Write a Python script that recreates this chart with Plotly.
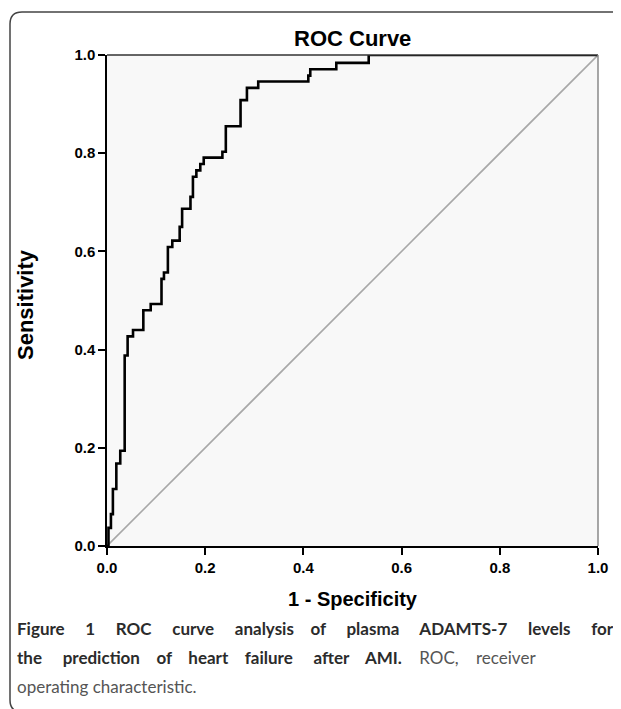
import plotly.graph_objects as go

# ROC curve points (1 - specificity, sensitivity), step corners
fpr = [0.0, 0.003, 0.008, 0.012, 0.019, 0.027, 0.036, 0.042, 0.053, 0.074, 0.089,
       0.111, 0.116, 0.124, 0.133, 0.148, 0.153, 0.170, 0.175, 0.182, 0.190, 0.197,
       0.235, 0.242, 0.272, 0.285, 0.308, 0.410, 0.414, 0.467, 0.533, 1.0]
tpr = [0.0, 0.037, 0.065, 0.116, 0.168, 0.194, 0.388, 0.427, 0.440, 0.480, 0.493,
       0.544, 0.557, 0.609, 0.622, 0.650, 0.687, 0.711, 0.752, 0.765, 0.778, 0.791,
       0.803, 0.855, 0.908, 0.933, 0.946, 0.958, 0.971, 0.984, 1.0, 1.0]
ref_line = [0.0, 1.0]
tick_vals = [0.0, 0.2, 0.4, 0.6, 0.8, 1.0]
tick_text = ["0.0", "0.2", "0.4", "0.6", "0.8", "1.0"]

# page body has an 8px margin: figure sized to fit the 621x709 window
OFF = 8
W, H = 621 - OFF, 709 - OFF
L, T = 107 - OFF, 55 - OFF
R = W - (598 - OFF)
B = H - (546 - OFF)
pw, ph = W - L - R, H - T - B

def sx(x):  # screen x -> paper
    return (x - OFF - L) / pw

def sy(y):  # screen y -> paper
    return (H - B - (y - OFF)) / ph

fig = go.Figure()
fig.add_trace(go.Scatter(x=ref_line, y=ref_line, mode="lines",
                         line=dict(color="#a8a8a8", width=1.6), hoverinfo="skip"))
fig.add_trace(go.Scatter(x=fpr, y=tpr, mode="lines", line_shape="hv",
                         line=dict(color="#000000", width=2.6)))

sans = "Liberation Sans, Arial"
axis_font = dict(family=sans, size=15, color="#000", weight="bold")
common = dict(range=[0, 1], tickvals=tick_vals, ticktext=tick_text,
              showgrid=False, zeroline=False, showline=True, linecolor="#000",
              linewidth=1.5, ticks="outside", ticklen=7, tickwidth=1.5,
              tickcolor="#000", tickfont=axis_font)
fig.update_xaxes(**common,
                 title=dict(text="1 - Specificity", standoff=17,
                            font=dict(family=sans, size=20, color="#000", weight="bold")))
fig.update_yaxes(**common)

shapes = [
    dict(type="line", xref="paper", yref="paper", x0=0, x1=1, y0=1, y1=1,
         line=dict(color="#333", width=1.5)),
    dict(type="line", xref="paper", yref="paper", x0=1, x1=1, y0=0, y1=1,
         line=dict(color="#8a8a8a", width=1.5)),
]
xl, yt, yb = sx(10), sy(12), sy(712)
dx, dy = 12 / pw, 12 / ph
path = (f"M {sx(660)},{yb} L {xl + dx},{yb} Q {xl},{yb} {xl},{yb + dy} "
        f"L {xl},{yt - dy} Q {xl},{yt} {xl + dx},{yt} L {sx(660)},{yt}")
shapes.append(dict(type="path", xref="paper", yref="paper", path=path,
                   line=dict(color="#444", width=1.5)))

cap_font = dict(family="Lato", size=17, color="#2b2b2b")
g = "#555"

def justify(words, gaps):
    out = words[0]
    for w, n in zip(words[1:], gaps):
        out += " " * n + w
    return out

line1 = "Figure 1 ROC curve analysis of plasma ADAMTS-7 levels for".split(" ")
line2 = "the prediction of heart failure after AMI.".split(" ")
annotations = [
    dict(text="ROC Curve", x=0.5, y=sy(38), xref="paper", yref="paper",
         showarrow=False, xanchor="center", yanchor="middle",
         font=dict(family=sans, size=22, color="#000", weight="bold")),
    dict(text="Sensitivity", x=sx(25), y=sy(305), xref="paper", yref="paper",
         showarrow=False, xanchor="center", yanchor="middle", textangle=-90,
         font=dict(family=sans, size=22, color="#000", weight="bold")),
    dict(text="<b>" + justify(line1, [5, 5, 5, 5, 4, 5, 5, 5, 5]) + "</b>",
         x=sx(15), y=sy(628), xref="paper", yref="paper", showarrow=False,
         xanchor="left", yanchor="middle", font=cap_font),
    dict(text="<b>" + justify(line2, [5, 4, 4, 4, 5, 4]) + "</b>" + "    "
              + f"<span style='color:{g}'>ROC,    receiver</span>",
         x=sx(15), y=sy(657), xref="paper", yref="paper", showarrow=False,
         xanchor="left", yanchor="middle", font=cap_font),
    dict(text=f"<span style='color:{g}'>operating characteristic.</span>",
         x=sx(15), y=sy(686), xref="paper", yref="paper", showarrow=False,
         xanchor="left", yanchor="middle", font=cap_font),
]

fig.update_layout(width=W, height=H, margin=dict(l=L, r=R, t=T, b=B),
                  paper_bgcolor="#ffffff", plot_bgcolor="#f8f8f8",
                  showlegend=False, shapes=shapes, annotations=annotations)
fig.write_html("out.html")
